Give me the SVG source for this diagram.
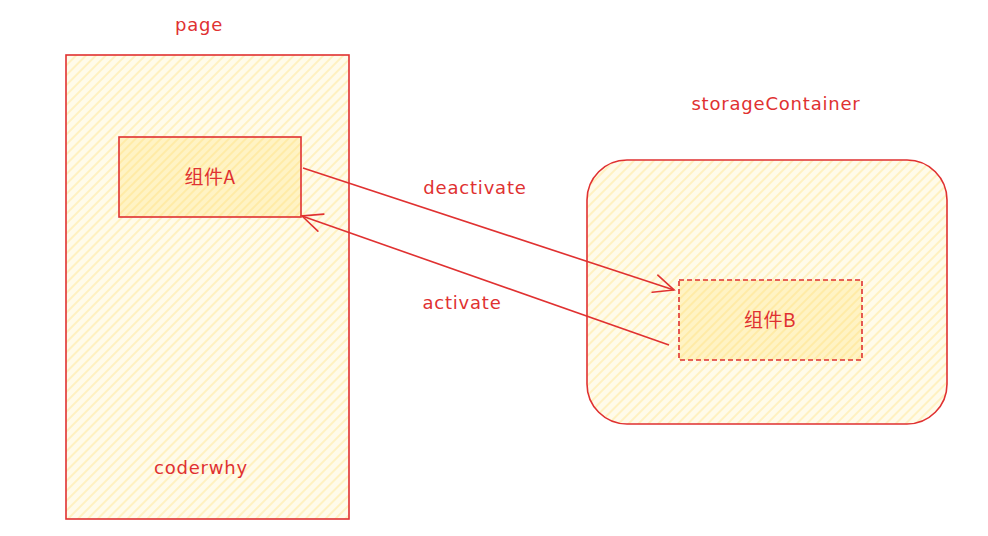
<svg xmlns="http://www.w3.org/2000/svg" width="988" height="536" viewBox="0 0 988 536">
<defs>
<pattern id="hatchLight" patternUnits="userSpaceOnUse" width="7" height="7" patternTransform="rotate(45)">
<rect width="7" height="7" fill="#fffbea"/>
<line x1="2" y1="0" x2="2" y2="7" stroke="#ffeeb0" stroke-width="1.4"/>
</pattern>
<pattern id="hatchStrong" patternUnits="userSpaceOnUse" width="6" height="6" patternTransform="rotate(45)">
<rect width="6" height="6" fill="#fff3c4"/>
<line x1="2" y1="0" x2="2" y2="6" stroke="#ffe89a" stroke-width="1.4"/>
</pattern>
<marker id="arrow" viewBox="0 0 24 24" refX="22" refY="12" markerWidth="24" markerHeight="24" markerUnits="userSpaceOnUse" orient="auto">
<path d="M2,3 L22,12 L2,21" fill="none" stroke="#e03131" stroke-width="1.6" stroke-linecap="round"/>
</marker>
<style>
.lbl{font-family:"DejaVu Sans","Noto Sans CJK SC",sans-serif;font-size:18px;fill:#e03131;text-anchor:middle;letter-spacing:0.8px;}
.cjk{font-family:"Noto Sans CJK SC","DejaVu Sans",sans-serif;font-size:19px;fill:#e03131;text-anchor:middle;letter-spacing:0.5px;}
.node{stroke:#e03131;stroke-width:1.6;}
.conn{stroke:#e03131;stroke-width:1.6;fill:none;}
</style>
</defs>
<rect width="988" height="536" fill="#ffffff"/>
<g id="page">
<rect class="node" x="66" y="55" width="283" height="464" fill="url(#hatchLight)"/>
<text class="lbl" x="199" y="31">page</text>
<text class="lbl" x="201" y="474">coderwhy</text>
</g>
<g id="storageContainer">
<rect class="node" x="587" y="160" width="360" height="264" rx="40" ry="40" fill="url(#hatchLight)"/>
<text class="lbl" x="776" y="110">storageContainer</text>
</g>
<g id="componentA">
<rect class="node" x="119" y="137" width="182" height="80" fill="url(#hatchStrong)"/>
<text class="cjk" x="210" y="184">组件A</text>
</g>
<g id="componentB">
<rect class="node" x="679" y="280" width="183" height="80" fill="url(#hatchStrong)" stroke-dasharray="5 3"/>
<text class="cjk" x="770" y="327">组件B</text>
</g>
<g id="connectors">
<line class="conn" x1="303" y1="168" x2="674" y2="290" marker-end="url(#arrow)"/>
<line class="conn" x1="669" y1="345" x2="302" y2="216" marker-end="url(#arrow)"/>
<text class="lbl" x="475" y="194">deactivate</text>
<text class="lbl" x="462" y="309">activate</text>
</g>
</svg>
